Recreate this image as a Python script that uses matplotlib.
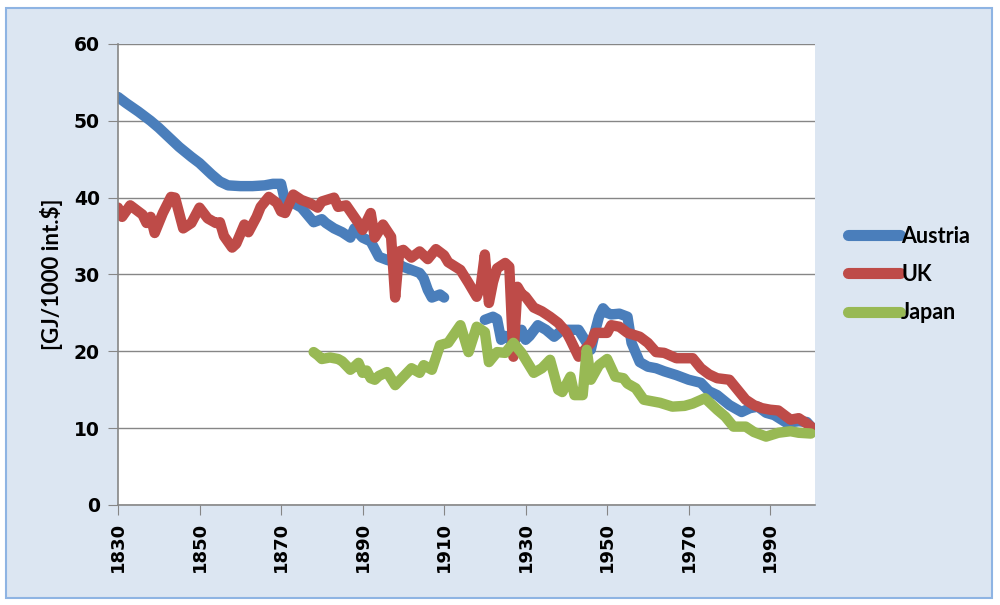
import numpy as np
import matplotlib.pyplot as plt
from matplotlib.patches import FancyBboxPatch

# energy intensity, GJ per 1000 int.$
austria_years = [1830, 1832, 1835, 1838, 1840, 1843, 1845, 1848, 1850, 1853, 1855, 1857,
                 1860, 1863, 1866, 1868, 1870, 1871, 1873, 1875, 1878, 1880, 1881, 1883,
                 1885, 1887, 1888, 1890, 1892, 1894, 1896, 1898, 1900, 1902, 1904, 1905,
                 1906, 1907, 1908, 1909, 1910, 1911,
                 1920, 1921, 1922, 1923, 1924, 1925, 1927, 1929, 1930, 1931, 1933, 1935,
                 1937, 1939, 1941, 1943, 1945, 1946, 1947, 1948, 1949, 1950, 1951, 1953,
                 1955, 1956, 1958, 1960, 1962, 1964, 1967, 1970, 1973, 1975, 1977, 1980,
                 1983, 1985, 1987, 1989, 1991, 1994, 1997, 1999, 2000]
austria = [53.1, 52.3, 51.2, 50.0, 49.1, 47.6, 46.6, 45.3, 44.5, 43.0, 42.1, 41.6,
           41.5, 41.5, 41.6, 41.8, 41.8, 39.5, 39.3, 38.7, 36.8, 37.2, 36.7, 36.0,
           35.5, 34.8, 36.0, 34.8, 34.3, 32.3, 31.9, 31.6, 31.0, 30.6, 30.2, 29.5,
           28.0, 27.0, 27.2, 27.4, 27.0, np.nan,
           24.1, 24.3, 24.5, 24.2, 21.5, 22.0, 21.1, 22.8, 21.5, 22.0, 23.4, 22.8,
           21.9, 22.8, 22.8, 22.8, 21.1, 20.2, 22.5, 24.5, 25.6, 25.0, 24.8, 24.9,
           24.5, 21.1, 18.6, 18.0, 17.8, 17.4, 16.9, 16.3, 15.9, 14.8, 14.3, 13.0,
           12.1, 12.6, 12.8, 12.0, 11.7, 10.7, 10.9, 10.8, 10.2]

uk_years = [1830, 1831, 1833, 1836, 1837, 1838, 1839, 1841, 1843, 1844, 1846, 1848,
            1850, 1852, 1854, 1855, 1856, 1858, 1859, 1861, 1862, 1864, 1865, 1867,
            1869, 1870, 1871, 1873, 1875, 1877, 1879, 1880, 1883, 1884, 1886, 1889,
            1890, 1892, 1893, 1895, 1897, 1898, 1899, 1900, 1902, 1904, 1906, 1908,
            1910, 1911, 1914, 1916, 1918, 1919, 1920, 1921, 1922, 1923, 1925, 1926,
            1927, 1928, 1929, 1930, 1932, 1934, 1936, 1938, 1940, 1941, 1943, 1944,
            1946, 1947, 1950, 1951, 1953, 1955, 1958, 1960, 1962, 1964, 1967, 1971,
            1973, 1975, 1977, 1980, 1982, 1984, 1986, 1988, 1990, 1992, 1995, 1997,
            1999, 2000]
uk = [38.7, 37.5, 39.0, 37.8, 36.7, 37.5, 35.4, 38.0, 40.1, 40.0, 36.0, 36.7,
      38.7, 37.3, 36.7, 36.8, 35.0, 33.5, 34.0, 36.5, 35.5, 37.5, 38.8, 40.1,
      39.3, 38.2, 38.0, 40.4, 39.7, 39.3, 38.7, 39.5, 40.0, 38.8, 39.0, 36.7,
      35.8, 38.0, 34.8, 36.5, 34.9, 27.0, 33.0, 33.2, 32.2, 33.0, 32.0, 33.3,
      32.5, 31.6, 30.6, 28.9, 27.1, 28.5, 32.6, 26.3, 29.0, 30.8, 31.5, 31.0,
      19.3, 28.4, 27.5, 27.1, 25.7, 25.2, 24.5, 23.7, 22.5, 21.5, 19.3, 19.9,
      21.1, 22.4, 22.4, 23.4, 23.2, 22.4, 21.9, 21.1, 19.9, 19.8, 19.1, 19.1,
      17.8, 17.0, 16.5, 16.3, 15.0, 13.7, 13.0, 12.6, 12.4, 12.3, 11.1, 11.3,
      10.6, 10.2]

japan_years = [1878, 1879, 1880, 1882, 1884, 1885, 1887, 1888, 1889, 1890, 1891, 1892,
               1893, 1894, 1896, 1898, 1900, 1902, 1904, 1905, 1907, 1909, 1911, 1914,
               1916, 1918, 1920, 1921, 1923, 1925, 1927, 1929, 1932, 1934, 1936, 1938,
               1939, 1941, 1942, 1944, 1945, 1946, 1948, 1950, 1952, 1954, 1955, 1957,
               1959, 1963, 1966, 1969, 1971, 1974, 1977, 1979, 1981, 1984, 1986, 1989,
               1992, 1995, 1997, 2000]
japan = [19.9, 19.5, 19.0, 19.2, 19.0, 18.7, 17.6, 18.0, 18.5, 17.2, 17.5, 16.5,
         16.3, 16.8, 17.3, 15.6, 16.7, 17.8, 17.2, 18.2, 17.6, 20.8, 21.1, 23.4,
         19.9, 23.2, 22.5, 18.6, 19.9, 19.8, 21.1, 19.8, 17.2, 17.8, 18.9, 15.0,
         14.7, 16.7, 14.3, 14.3, 20.2, 16.3, 18.2, 19.0, 16.7, 16.5, 15.8, 15.2,
         13.7, 13.3, 12.8, 12.9, 13.2, 13.9, 12.4, 11.5, 10.2, 10.2, 9.5, 8.9,
         9.4, 9.6, 9.4, 9.3]

series = [("Austria", austria_years, austria, "#4a7ebb"),
          ("UK", uk_years, uk, "#be4b48"),
          ("Japan", japan_years, japan, "#98b954")]

fig = plt.figure(figsize=(10, 6.05), dpi=100, facecolor="white")
# light blue chart area with border
bg = FancyBboxPatch((0.006, 0.012), 0.986, 0.975, boxstyle="square,pad=0",
                    transform=fig.transFigure, facecolor="#dce6f2",
                    edgecolor="#8eb4e3", linewidth=1.5, zorder=-1)
fig.patches.append(bg)

ax = fig.add_axes([0.118, 0.1653, 0.697, 0.762])
ax.set_facecolor("white")
for name, yrs, vals, col in series:
    ax.plot(yrs, vals, color=col, lw=7.5, label=name,
            solid_joinstyle="round", solid_capstyle="round")

ax.set_xlim(1830, 2001)
ax.set_ylim(0, 60)
ax.set_yticks(range(0, 61, 10))
ax.set_xticks(range(1830, 1991, 20))
ax.tick_params(axis="y", length=7, color="#868686", labelsize=13.5, pad=6)
ax.tick_params(axis="x", length=7, color="#868686", labelsize=13, rotation=90, pad=5)
for lab in ax.get_xticklabels() + ax.get_yticklabels():
    lab.set_fontweight("bold")
ax.grid(axis="y", color="#868686", lw=1)
ax.set_axisbelow(True)
for s in ["top", "right"]:
    ax.spines[s].set_visible(False)
for s in ["left", "bottom"]:
    ax.spines[s].set_color("#868686")
    ax.spines[s].set_linewidth(1.2)

ax.set_ylabel("[GJ/1000 int.$]", fontsize=16, fontweight="bold",
              family="Lato", labelpad=8)

leg = ax.legend(loc="center left", bbox_to_anchor=(1.02, 0.50), frameon=False,
                prop={"family": "Lato", "weight": "bold", "size": 15.5},
                handlelength=2.4, handletextpad=0.05, labelspacing=0.8)
for h in leg.get_lines():
    h.set_linewidth(8)

fig.savefig("out.png", dpi=100, facecolor=fig.get_facecolor())
